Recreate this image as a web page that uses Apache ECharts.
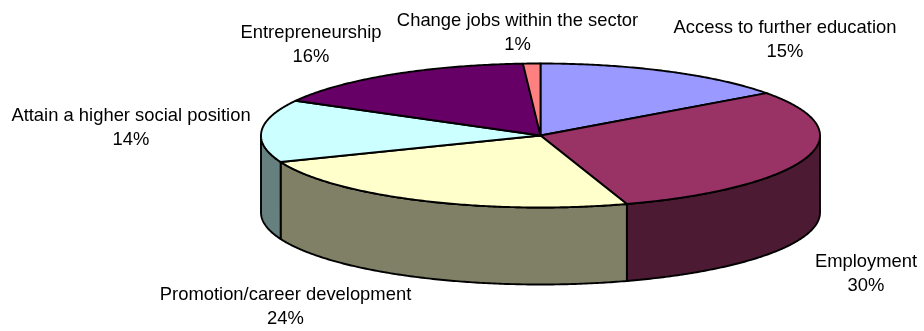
<!DOCTYPE html>
<html>
<head>
<meta charset="utf-8">
<style>html,body{margin:0;padding:0;background:#fff}#chart{width:924px;height:331px}</style>
<script src="https://cdn.jsdelivr.net/npm/echarts@6/dist/echarts.min.js"></script>
</head>
<body>
<div id="chart"></div>
<script>
// Slice names and shares, clockwise from twelve o'clock
const categories = [
  'Access to further education',
  'Employment',
  'Promotion/career development',
  'Attain a higher social position',
  'Entrepreneurship',
  'Change jobs within the sector'
];
const values = [15, 30, 24, 14, 16, 1];
const topColors = ['#9999ff', '#993366', '#ffffcc', '#ccffff', '#660066', '#ff8080'];
const sideColors = ['#4c4c80', '#4d1a33', '#808066', '#668080', '#330033', '#804040'];

// Centre points of the two-line labels, one per slice
const labelCentres = [[785, 40], [866, 274], [285.5, 307], [131, 128], [311, 45], [517.5, 33]];

// Ellipse geometry of the tilted disc
const disc = { cx: 540.5, cy: 135.5, rx: 279.5, ry: 72, depth: 77 };
const FONT = '18.4px "Liberation Sans", Arial, sans-serif';

const total = values.reduce((a, b) => a + b, 0);
const edges = [0];
values.forEach((v, i) => edges.push(edges[i] + (v / total) * 2 * Math.PI));

const rimPoint = (a, dy) => [
  disc.cx + disc.rx * Math.sin(a),
  disc.cy - disc.ry * Math.cos(a) + (dy || 0)
];

function arcPoints(a0, a1, dy) {
  const steps = Math.max(2, Math.ceil((a1 - a0) / 0.01));
  const pts = [];
  for (let s = 0; s <= steps; s++) pts.push(rimPoint(a0 + (a1 - a0) * s / steps, dy));
  return pts;
}

const stroke = { stroke: '#000', lineWidth: 1.9, lineJoin: 'round' };

// Visible wall of a slice: the part of its arc on the front half of the disc
function renderSide(params) {
  const i = params.dataIndex;
  const a0 = Math.max(edges[i], Math.PI / 2);
  const a1 = Math.min(edges[i + 1], 3 * Math.PI / 2);
  if (a1 <= a0) return { type: 'group', children: [] };
  const upper = arcPoints(a0, a1, 0);
  const lower = arcPoints(a0, a1, disc.depth).reverse();
  return {
    type: 'polygon',
    shape: { points: upper.concat(lower) },
    style: Object.assign({ fill: sideColors[i] }, stroke)
  };
}

function renderTop(params) {
  const i = params.dataIndex;
  return {
    type: 'polygon',
    shape: { points: [[disc.cx, disc.cy]].concat(arcPoints(edges[i], edges[i + 1], 0)) },
    style: Object.assign({ fill: topColors[i] }, stroke)
  };
}

function renderLabel(params) {
  const i = params.dataIndex;
  return {
    type: 'text',
    x: labelCentres[i][0],
    y: labelCentres[i][1],
    style: {
      text: categories[i] + '\n' + Math.round(values[i] / total * 100) + '%',
      font: FONT,
      lineHeight: 24.5,
      fill: '#000',
      align: 'center',
      verticalAlign: 'middle'
    }
  };
}

const chart = echarts.init(document.getElementById('chart'), null, { renderer: 'canvas' });
chart.setOption({
  animation: false,
  backgroundColor: '#fff',
  tooltip: { show: false },
  series: [
    { type: 'custom', coordinateSystem: 'none', data: values, renderItem: renderSide, z: 1, silent: true },
    { type: 'custom', coordinateSystem: 'none', data: values, renderItem: renderTop, z: 2, silent: true },
    { type: 'custom', coordinateSystem: 'none', data: values, renderItem: renderLabel, z: 3, silent: true }
  ]
});
</script>
</body>
</html>
